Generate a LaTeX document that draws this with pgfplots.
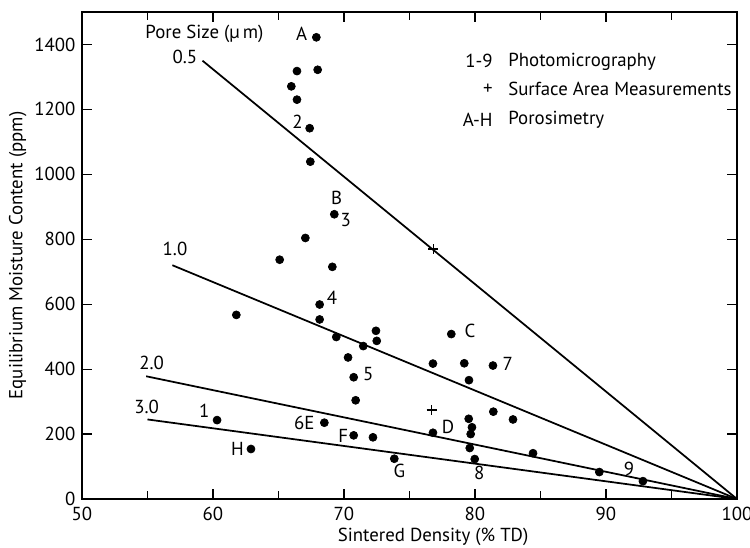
\documentclass[border=0pt]{standalone}
\usepackage{fontspec}
\setmainfont{PT Sans}
\usepackage{pgfplots}
\pgfplotsset{compat=1.18}

\begin{document}
\fontsize{11.3}{13.5}\selectfont
\begin{tikzpicture}[font=\fontsize{11.3}{13.5}\selectfont]
\useasboundingbox (-49.2pt,-29.4pt) rectangle (400.8pt,299.4pt);
\begin{axis}[
    at={(0,0)}, anchor=south west,
    scale only axis,
    width=393pt, height=292.2pt,
    xmin=50, xmax=100, ymin=0, ymax=1500,
    xtick={50,60,...,100},
    minor xtick={55,65,...,95},
    ytick={0,200,...,1400},
    tick align=inside,
    major tick length=6pt,
    minor tick length=5pt,
    axis line style={line width=1.1pt},
    tick style={line width=0.7pt, black},
    /pgf/number format/assume math mode=true,
    /pgf/number format/set thousands separator={},
    scaled ticks=false,
    tick label style={font=\fontsize{11.3}{13.5}\selectfont},
    label style={font=\fontsize{11.3}{13.5}\selectfont},
    xticklabel style={yshift=-1pt},
    xlabel={Sintered Density (\% TD)},
    ylabel={Equilibrium Moisture Content (ppm)},
    xlabel style={at={(axis description cs:0.536,-0.078)}, anchor=center},
    ylabel style={at={(axis description cs:-0.098,0.5)}, anchor=center},
    clip=false,
]
% pore size lines
\addplot[black, line width=1.05pt] coordinates {(59.2,1350) (100,0)};
\addplot[black, line width=1.05pt] coordinates {(56.9,720) (100,0)};
\addplot[black, line width=1.05pt] coordinates {(54.9,378) (100,0)};
\addplot[black, line width=1.05pt] coordinates {(55.0,245) (100,0)};

% measured points
\addplot[only marks, mark=*, mark size=2.4pt, black] coordinates {
(67.89,1422) (66.41,1318) (67.99,1322) (65.98,1271) (66.41,1230)
(67.38,1142) (67.43,1039) (69.26,877) (67.05,804) (65.09,737)
(69.11,715) (68.14,599) (68.14,553) (61.78,567) (72.44,518)
(69.41,499) (71.47,471) (72.50,487) (70.31,436) (70.74,375)
(70.89,304) (60.31,243) (68.50,235) (70.74,196) (72.21,190)
(62.90,154) (78.19,508) (76.79,417) (79.18,418) (81.37,411)
(79.54,366) (81.40,269) (82.90,245) (79.52,247) (79.77,221)
(79.67,200) (76.79,204) (79.60,157) (79.98,123) (84.43,141)
(73.84,124) (89.49,83) (92.82,55)
};
% surface area measurements
\addplot[only marks, mark=+, mark size=3pt, black, line width=0.7pt] coordinates {
(76.82,770) (76.69,274)
};

% annotations
\node at (axis cs:59.35,1434) {Pore Size (µ\,m)};
\node at (axis cs:66.77,1433) {A};
\node at (axis cs:57.86,1361) {0.5};
\node at (axis cs:66.46,1161) {2};
\node at (axis cs:69.44,928) {B};
\node at (axis cs:70.13,860) {3};
\node at (axis cs:57.1,771) {1.0};
\node at (axis cs:69.08,621) {4};
\node at (axis cs:71.86,384) {5};
\node at (axis cs:79.62,517) {C};
\node at (axis cs:82.5,417) {7};
\node at (axis cs:55.32,419) {2.0};
\node at (axis cs:54.94,284) {3.0};
\node at (axis cs:59.34,271) {1};
\node at (axis cs:66.97,233) {6E};
\node at (axis cs:69.95,194) {F};
\node at (axis cs:61.86,154) {H};
\node at (axis cs:77.94,222) {D};
\node at (axis cs:74.22,86) {G};
\node at (axis cs:80.33,79) {8};
\node at (axis cs:91.76,94) {9};

% key
\node[anchor=east, inner sep=0pt] at (axis cs:81.37,1348) {1-9};
\node[anchor=west, inner sep=0pt] at (axis cs:82.52,1348) {Photomicrography};
\node[anchor=east, inner sep=0pt] at (axis cs:81.37,1262) {+};
\node[anchor=west, inner sep=0pt] at (axis cs:82.52,1262) {Surface Area Measurements};
\node[anchor=east, inner sep=0pt] at (axis cs:81.37,1169) {A-H};
\node[anchor=west, inner sep=0pt] at (axis cs:82.52,1169) {Porosimetry};
\end{axis}
\end{tikzpicture}
\end{document}
